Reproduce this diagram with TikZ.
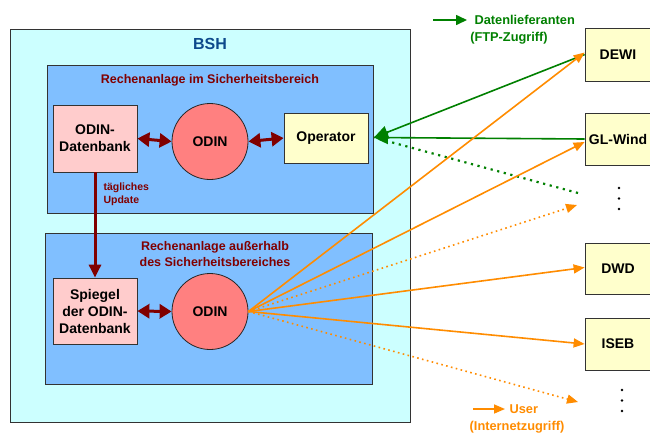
\documentclass[tikz,border=0pt]{standalone}
\usepackage{fontspec}
\setmainfont{Liberation Sans}
\usetikzlibrary{arrows.meta}
\definecolor{bshcyan}{HTML}{CCFFFF}
\definecolor{innerblue}{HTML}{80BFFF}
\definecolor{dbpink}{HTML}{FFCCCC}
\definecolor{odinred}{HTML}{FF8080}
\definecolor{opyellow}{HTML}{FFFFCC}
\definecolor{darkred}{HTML}{800000}
\definecolor{ftpgreen}{HTML}{008000}
\definecolor{userorange}{HTML}{FF8C00}
\definecolor{titleblue}{HTML}{0D4A8C}
\tikzset{
  frame/.style={draw=black!80, line width=0.8pt, anchor=north west, inner sep=0pt},
  boxtext/.style={font=\bfseries\fontsize{14}{17}\selectfont, align=center},
  dbbox/.style={draw=black!80, line width=0.8pt, fill=dbpink, boxtext, inner sep=0pt},
  ybox/.style={draw=black!80, line width=0.8pt, fill=opyellow, boxtext, inner sep=0pt},
  odin/.style={circle, draw=black!85, line width=0.8pt, fill=odinred, boxtext, minimum size=76pt, inner sep=0pt},
  redlabel/.style={text=darkred, font=\bfseries\fontsize{12.5}{16}\selectfont, align=center},
  dblarrow/.style={darkred, line width=3pt, {Triangle[length=12pt,width=14pt]}-{Triangle[length=12pt,width=14pt]}},
  ftp/.style={ftpgreen, line width=1.6pt, -{Triangle[length=14pt,width=13pt]}},
  usr/.style={userorange, line width=1.6pt, -{Triangle[length=11pt,width=9pt]}},
  gdotted/.style={ftpgreen, line width=2.2pt, dash pattern=on 2.2pt off 4.6pt},
  odotted/.style={line width=1.6pt, dash pattern=on 1.6pt off 3.4pt},
  legtext/.style={font=\bfseries\fontsize{12.8}{15}\selectfont},
}
\begin{document}
\begin{tikzpicture}[x=1pt,y=-1pt]
\useasboundingbox (0,0) rectangle (650,432);
\clip (0,0) rectangle (650,432);
\fill[white] (0,0) rectangle (650,432);

% frames
\node[frame, fill=bshcyan, minimum width=400pt, minimum height=393pt] (bsh) at (10,29) {};
\node[text=titleblue, font=\bfseries\fontsize{16}{18}\selectfont] (bshlabel) at (210,44) {BSH};
\node[frame, fill=innerblue, minimum width=326pt, minimum height=148pt] (upper) at (47,65) {};
\node[frame, fill=innerblue, minimum width=327pt, minimum height=151pt] (lower) at (45,233) {};
\node[redlabel] (uplabel) at (210,80) {Rechenanlage im Sicherheitsbereich};
\node[redlabel] (lowlabel) at (215,254) {Rechenanlage außerhalb\\des Sicherheitsbereiches};

% upper components
\node[dbbox, minimum width=84pt, minimum height=67pt] (db) at (95,138.5) {ODIN-\\Datenbank};
\node[odin] (odin1) at (210,141.5) {ODIN};
\node[ybox, minimum width=84pt, minimum height=50pt] (op) at (326,138) {Operator};

% lower components
\node[dbbox, minimum width=84pt, minimum height=66pt] (spiegel) at (95,311) {Spiegel\\der ODIN-\\Datenbank};
\node[odin] (odin2) at (210,311.5) {ODIN};

\draw[dblarrow] (db.east) -- (odin1.west);
\draw[dblarrow] (odin1.east) -- (op.west);
\draw[dblarrow] (spiegel.east) -- (odin2.west);
\draw[darkred, line width=3pt, -{Triangle[length=13pt,width=12pt]}] (db.south) -- (spiegel.north);
\node[text=darkred, font=\bfseries\fontsize{10.5}{13}\selectfont, align=left, anchor=west] (upd) at (100,194.5) {tägliches\\Update};

% right boxes
\node[ybox, minimum width=66pt, minimum height=53pt] (dewi) at (618,54.5) {DEWI};
\node[ybox, minimum width=66pt, minimum height=52pt] (gl) at (618,139) {GL-Wind};
\node[ybox, minimum width=66pt, minimum height=51pt] (dwd) at (618,268.5) {DWD};
\node[ybox, minimum width=66pt, minimum height=52pt] (iseb) at (618,344) {ISEB};

% dots
\foreach \y in {188,198.5,209} \fill (619,\y) circle (1.3pt);
\foreach \y in {390,400.5,411} \fill (622,\y) circle (1.3pt);

% free ends
\coordinate (gdot) at (578,193);
\coordinate (od1) at (577,205);
\coordinate (od2) at (578,402);
\coordinate (optip) at (374,137.5);

% green connectors
\draw[gdotted] (gdot) -- (optip);
\draw[ftp] (dewi.west) -- (optip);
\draw[ftp] (gl.west) -- (optip);

% orange connectors
\draw[usr] (odin2.east) -- ([yshift=2pt]dewi.west);
\draw[usr] (odin2.east) -- ([yshift=-3pt]gl.west);
\draw[usr, odotted] (odin2.east) -- (od1);
\draw[usr] (odin2.east) -- ([yshift=1pt]dwd.west);
\draw[usr] (odin2.east) -- (iseb.west);
\draw[usr, odotted] (odin2.east) -- (od2);

% legends
\coordinate (gl1) at (433,20);
\coordinate (gl2) at (467,20);
\draw[ftp, line width=1.6pt, -{Triangle[length=11pt,width=10pt]}] (gl1) -- (gl2);
\node[legtext, text=ftpgreen, anchor=west] (glt) at (471,20) {Datenlieferanten};
\node[legtext, text=ftpgreen] (glt2) at (509,38) {(FTP-Zugriff)};
\coordinate (ol1) at (473,409);
\coordinate (ol2) at (505,409);
\draw[usr] (ol1) -- (ol2);
\node[legtext, text=userorange, anchor=west] (olt) at (506,409.5) {User};
\node[legtext, text=userorange] (olt2) at (517,427) {(Internetzugriff)};
\end{tikzpicture}
\end{document}
